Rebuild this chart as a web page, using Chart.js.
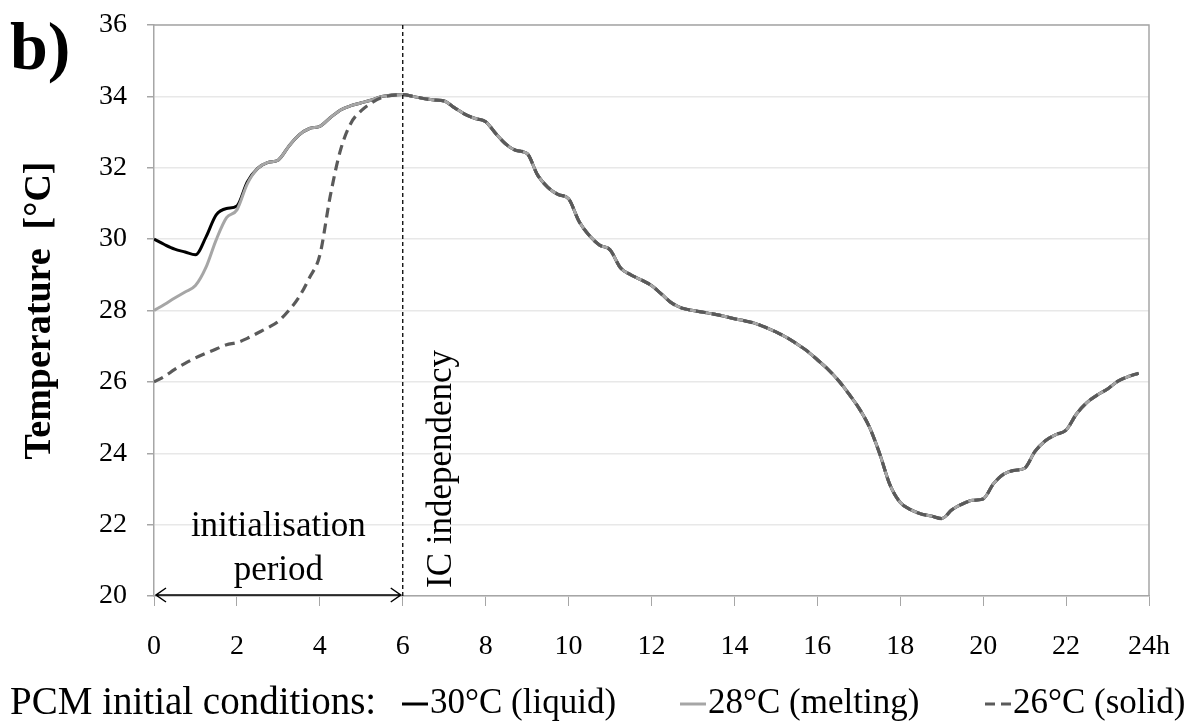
<!DOCTYPE html>
<html>
<head>
<meta charset="utf-8">
<script src="https://cdn.jsdelivr.net/npm/chart.js@4/dist/chart.umd.min.js"></script>
<style>
  html, body { margin: 0; padding: 0; background: #fff; }
  #wrap { width: 1189px; height: 724px; }
</style>
</head>
<body>
<div id="wrap"><canvas id="myChart" width="1189" height="724"></canvas></div>
<script>
// time axis (h): initialisation period and the part shared by all three runs
const hoursInit = [0, 0.25, 0.5, 0.75, 1, 1.25, 1.5, 1.75, 2, 2.25, 2.5, 2.75, 3,
  3.25, 3.5, 3.75, 4, 4.25, 4.5, 4.75, 5, 5.25, 5.5, 5.75, 6];
const hoursCommon = [6.25, 6.5, 6.75, 7, 7.25, 7.5, 7.75, 8, 8.25, 8.5, 8.75, 9,
  9.25, 9.5, 9.75, 10, 10.25, 10.5, 10.75, 11, 11.25, 11.5, 11.75, 12,
  12.25, 12.5, 12.75, 13, 13.25, 13.5, 13.75, 14, 14.25, 14.5, 14.75, 15,
  15.25, 15.5, 15.75, 16, 16.25, 16.5, 16.75, 17, 17.25, 17.5, 17.75, 18,
  18.25, 18.5, 18.75, 19, 19.25, 19.5, 19.75, 20, 20.25, 20.5, 20.75, 21,
  21.25, 21.5, 21.75, 22, 22.25, 22.5, 22.75, 23, 23.25, 23.5, 23.75];

// temperatures (°C) during the first 6 h, one per initial condition
const liquidInit = [30.0, 29.85, 29.72, 29.64, 29.56, 30.05, 30.68, 30.86, 30.93, 31.6, 31.98, 32.15, 32.22,
  32.6, 32.92, 33.1, 33.16, 33.4, 33.62, 33.74, 33.82, 33.9, 34.0, 34.04, 34.05];
const meltingInit = [28.0, 28.17, 28.35, 28.52, 28.7, 29.2, 29.98, 30.6, 30.82, 31.55, 31.98, 32.15, 32.22,
  32.6, 32.92, 33.1, 33.16, 33.4, 33.62, 33.74, 33.82, 33.9, 34.0, 34.04, 34.05];
const solidInit = [26.0, 26.15, 26.35, 26.52, 26.67, 26.8, 26.92, 27.04, 27.1, 27.22, 27.37, 27.52, 27.7,
  28.0, 28.38, 28.92, 29.55, 31.2, 32.5, 33.25, 33.6, 33.82, 33.97, 34.03, 34.05];
// after 6 h the three runs are identical
const commonTemps = [34.0, 33.94, 33.9, 33.87, 33.68, 33.5, 33.38, 33.29, 32.95, 32.65, 32.48, 32.4,
  31.8, 31.45, 31.25, 31.13, 30.5, 30.1, 29.83, 29.7, 29.2, 29.0, 28.86, 28.7,
  28.45, 28.2, 28.06, 28.0, 27.95, 27.9, 27.84, 27.77, 27.71, 27.64, 27.53, 27.4,
  27.25, 27.07, 26.87, 26.62, 26.36, 26.05, 25.68, 25.27, 24.75, 24.0, 23.12, 22.62,
  22.42, 22.3, 22.24, 22.17, 22.42, 22.58, 22.68, 22.72, 23.15, 23.42, 23.52, 23.58,
  24.05, 24.35, 24.52, 24.65, 25.1, 25.42, 25.63, 25.8, 26.02, 26.15, 26.24];

const seriesLabels = ['30°C (liquid)', '28°C (melting)', '26°C (solid)'];
const yTicks = [20, 22, 24, 26, 28, 30, 32, 34, 36];
const xTicks = [0, 2, 4, 6, 8, 10, 12, 14, 16, 18, 20, 22, 24];
const icTime = 6;

const SERIF = "'Liberation Serif', 'Times New Roman', serif";
const allHours = hoursInit.concat(hoursCommon);
const toPoints = (init) => allHours.map((h, i) => ({x: h, y: init.concat(commonTemps)[i]}));

const annotations = {
    id: 'annotations',
    beforeDatasetsDraw(chart) {
        const {ctx, chartArea: a} = chart;
        ctx.save();
        ctx.strokeStyle = '#a6a6a6';
        ctx.lineWidth = 1.5;
        ctx.beginPath();
        ctx.moveTo(a.left, a.top);
        ctx.lineTo(a.right, a.top);
        ctx.lineTo(a.right, a.bottom);
        ctx.stroke();
        ctx.restore();
    },
    afterDraw(chart) {
        const {ctx, chartArea: a, scales: {x, y}} = chart;
        ctx.save();
        // IC independency line
        const xi = x.getPixelForValue(icTime);
        ctx.strokeStyle = '#000';
        ctx.lineWidth = 1.3;
        ctx.setLineDash([4, 3]);
        ctx.beginPath();
        ctx.moveTo(xi, a.top);
        ctx.lineTo(xi, a.bottom);
        ctx.stroke();
        ctx.setLineDash([]);
        // double arrow for the initialisation period
        const x0 = x.getPixelForValue(0), yb = y.getPixelForValue(20) - 1;
        ctx.lineWidth = 1.5;
        ctx.beginPath();
        ctx.moveTo(x0 + 2, yb);
        ctx.lineTo(xi - 2, yb);
        ctx.moveTo(x0 + 12, yb - 7); ctx.lineTo(x0 + 2, yb); ctx.lineTo(x0 + 12, yb + 7);
        ctx.moveTo(xi - 12, yb - 7); ctx.lineTo(xi - 2, yb); ctx.lineTo(xi - 12, yb + 7);
        ctx.stroke();
        // texts
        ctx.fillStyle = '#000';
        ctx.font = '35px ' + SERIF;
        ctx.textAlign = 'center';
        ctx.textBaseline = 'middle';
        const xc = x.getPixelForValue(3);
        ctx.fillText('initialisation', xc, 527);
        ctx.fillText('period', xc, 571);
        ctx.save();
        ctx.translate(x.getPixelForValue(6.95), 588);
        ctx.rotate(-Math.PI / 2);
        ctx.textAlign = 'left';
        ctx.fillText('IC independency', 0, 0);
        ctx.restore();
        // panel letter
        ctx.font = 'bold 68px ' + SERIF;
        ctx.textAlign = 'left';
        ctx.textBaseline = 'alphabetic';
        ctx.fillText('b)', 10, 69);
        // legend
        ctx.textBaseline = 'middle';
        const ly = 704;
        ctx.font = '39px ' + SERIF;
        ctx.fillText('PCM initial conditions:', 10, ly);
        ctx.font = '35px ' + SERIF;
        const sampleX = [402, 680, 985];
        chart.data.datasets.forEach((ds, i) => {
            ctx.strokeStyle = ds.borderColor;
            ctx.lineWidth = ds.borderWidth;
            ctx.setLineDash(ds.borderDash || []);
            ctx.beginPath();
            ctx.moveTo(sampleX[i], ly);
            ctx.lineTo(sampleX[i] + 26, ly);
            ctx.stroke();
            ctx.setLineDash([]);
            ctx.fillText(ds.label, sampleX[i] + 28, ly);
        });
        ctx.restore();
    }
};

new Chart(document.getElementById('myChart').getContext('2d'), {
    type: 'line',
    data: {
        datasets: [
            {label: seriesLabels[0], data: toPoints(liquidInit), borderColor: '#000000', borderWidth: 3, order: 3},
            {label: seriesLabels[1], data: toPoints(meltingInit), borderColor: '#a6a6a6', borderWidth: 3, order: 2},
            {label: seriesLabels[2], data: toPoints(solidInit), borderColor: '#5a5a5a', borderWidth: 3.2,
                borderDash: [10, 6], order: 1}
        ]
    },
    options: {
        responsive: false,
        devicePixelRatio: 1,
        animation: false,
        layout: {padding: {left: 0, top: 25, right: 40, bottom: 68}},
        elements: {
            point: {radius: 0},
            line: {cubicInterpolationMode: 'monotone', fill: false}
        },
        plugins: {legend: {display: false}, tooltip: {enabled: false}},
        scales: {
            x: {
                type: 'linear', min: 0, max: 24,
                afterBuildTicks: (s) => { s.ticks = xTicks.map(v => ({value: v})); },
                afterFit: (s) => { s.height = 60; s.paddingLeft = 0; s.paddingRight = 0; },
                ticks: {
                    color: '#000', padding: 24, maxRotation: 0,
                    font: {family: SERIF, size: 28},
                    callback: (v) => v === 24 ? '24h' : v
                },
                grid: {drawOnChartArea: false, drawTicks: true, tickLength: 10, color: '#a6a6a6'},
                border: {color: '#a6a6a6', width: 1.5}
            },
            y: {
                min: 20, max: 36,
                afterBuildTicks: (s) => { s.ticks = yTicks.map(v => ({value: v})); },
                afterFit: (s) => { s.width = 154; s.paddingTop = 0; s.paddingBottom = 0; },
                ticks: {color: '#000', padding: 20, font: {family: SERIF, size: 28}},
                grid: {color: '#e8e8e8', tickColor: '#a6a6a6', tickLength: 7, lineWidth: 1.5},
                border: {color: '#a6a6a6', width: 1.5},
                title: {
                    display: true, text: 'Temperature  [°C]', color: '#000',
                    font: {family: SERIF, size: 38, weight: 'bold', lineHeight: 1},
                    padding: {top: 21, bottom: 0}
                }
            }
        }
    },
    plugins: [annotations]
});
</script>
</body>
</html>
